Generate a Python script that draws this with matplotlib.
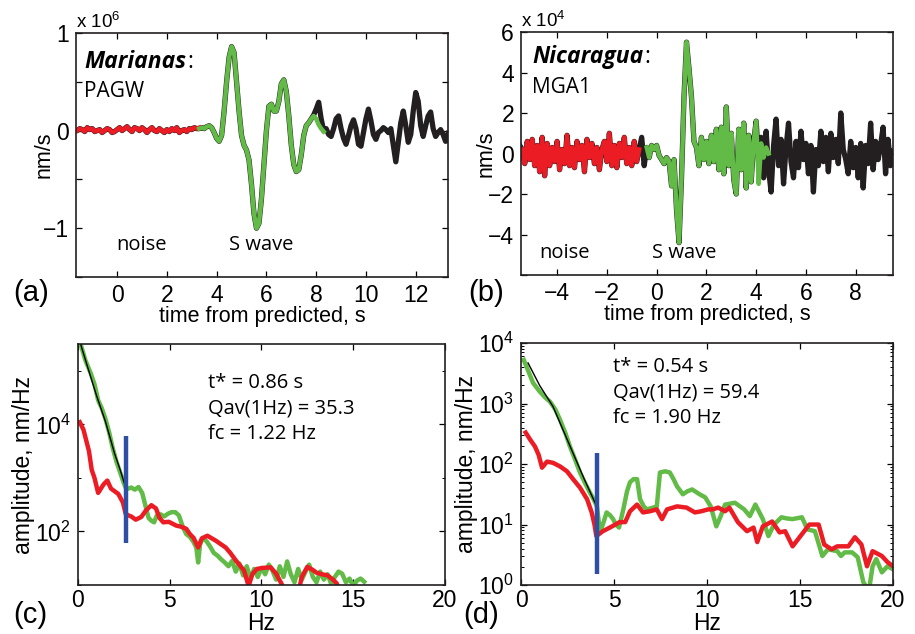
import numpy as np
import matplotlib
matplotlib.use("Agg")
import matplotlib.pyplot as plt
from matplotlib.ticker import NullFormatter, LogLocator

plt.rcParams['font.family'] = ['Liberation Sans', 'DejaVu Sans']
plt.rcParams['mathtext.fontset'] = 'custom'
plt.rcParams['mathtext.rm'] = 'Liberation Sans'
plt.rcParams['mathtext.it'] = 'Liberation Sans:italic'

DT = 0.1  # trace sampling, s

# ---- (a) Marianas, PAGW  (x 1e6 nm/s)
noise_a_t0 = -1.6
noise_a = [0.00, 0.02, 0.01, -0.01, 0.03, 0.01, 0.02, -0.01, 0.00, 0.01,
           -0.02, 0.00, 0.02, 0.01, -0.02, -0.01, 0.01, 0.03, 0.00, 0.02,
           0.04, 0.01, -0.01, 0.03, 0.02, 0.00, 0.03, 0.01, -0.02, 0.01,
           0.03, 0.00, -0.01, 0.02, 0.00, -0.02, 0.01, -0.01, 0.02, 0.00,
           0.03, -0.02, 0.00, 0.01, -0.01, 0.02, 0.01, 0.03, 0.02, 0.03]
swave_a_t0 = 3.3
swave_a = [0.02, 0.03, 0.02, 0.04, 0.05, 0.03, -0.02, -0.08, -0.11, -0.05,
           0.2, 0.5, 0.75, 0.86, 0.8, 0.5, 0.2, -0.05, -0.15, -0.2,
           -0.3, -0.55, -0.85, -1.0, -0.95, -0.7, -0.35, 0.0, 0.25, 0.27,
           0.2, 0.2, 0.3, 0.48, 0.52, 0.4, 0.15, -0.15, -0.35, -0.42,
           -0.4, -0.25, -0.05, 0.05, 0.08, 0.12, 0.15, 0.12, 0.06, 0.02, -0.01]
coda_a = [0.16, 0.22, 0.29, 0.12, 0.0, 0.02, -0.04, -0.06, 0.02, 0.12,
          0.15, 0.02, -0.08, -0.14, -0.05, 0.05, 0.11, 0.02, -0.14, -0.16,
          -0.02, 0.12, 0.22, 0.1, -0.04, -0.09, -0.02, 0.0, 0.03, 0.01,
          -0.02, 0.02, -0.15, -0.32, -0.12, 0.08, 0.2, 0.05, -0.12, -0.04,
          0.2, 0.39, 0.3, 0.05, -0.06, 0.05, 0.15, 0.19, 0.02, -0.06,
          -0.02, 0.01, -0.04, -0.11, -0.03]
trace_a_t0 = -1.7
trace_a = [0.0] + noise_a[:49] + swave_a[:46] + coda_a

# ---- (b) Nicaragua, MGA1  (x 1e4 nm/s)
noise_b_t0 = -5.4
noise_b = [0.2, -0.5, 0.6, -0.3, 0.7, -0.6, 0.4, -0.9, 0.8, -1.1,
           0.5, -0.6, 0.3, -0.4, 0.6, -0.8, 0.2, -0.5, 0.9, -0.6,
           0.3, -0.7, 0.6, -0.3, 0.4, -0.9, 0.7, -0.2, 0.5, -0.5,
           0.3, -0.8, 0.2, 0.6, -0.4, 1.0, -0.6, 0.4, -0.7, 0.5,
           -0.2, 0.8, -0.5, 0.3, -0.6, 0.6, -0.4, 0.2]
gap_b = [0.8, -0.6]
swave_b_t0 = -0.4
swave_b = [0.3, -0.2, 0.4, 0.2, 0.4, -0.1, -0.3, -0.5, -0.2, -0.4,
           -1.6, -0.3, -2.8, -4.4, -1.2, 2.8, 5.5, 4.2, 2.8, 0.6,
           0.3, -0.6, 0.8, -0.3, 0.6, -0.5, 0.9, -0.4, 1.2, -0.8,
           1.3, -1.0, 2.3, -0.6, 1.0, -1.3, -2.0, 1.2, -0.8, 1.5,
           -1.7, 0.9, -1.4, 0.6, 1.6, -1.5, 0.5, -0.2, 0.3, 0.0]
coda_b = [-0.5, 0.8, -1.2, 1.1, -0.8, -1.9, 0.4, 1.7, -0.6, 0.7,
          -1.5, 0.3, 1.5, -0.4, -1.2, 0.6, -0.7, 1.1, -0.3, 0.5,
          -1.0, 0.4, -1.9, 0.2, -0.6, 1.1, -0.4, 0.8, -0.9, 1.0,
          -0.2, 0.7, -0.5, 2.0, 0.2, -0.3, -1.0, 0.6, -0.7, 0.3,
          -1.2, 0.5, -1.7, 0.4, -0.5, 1.5, -0.8, 0.6, -0.3, 0.4,
          1.3, -1.0, 0.7, -0.6, 0.1]
trace_b_t0 = -5.5
trace_b = [0.4] + noise_b + gap_b + swave_b[:45] + coda_b

# ---- (c) spectra, Marianas (log10 amplitude, nm/Hz)
sig_c_f = [0.1, 0.4, 0.7, 0.9, 1.1, 1.3, 1.5, 1.7, 1.9, 2.1,
           2.3, 2.5, 2.6, 2.75, 2.9, 3.1, 3.3, 3.5, 3.7, 3.85,
           4.0, 4.15, 4.3, 4.5, 4.7, 4.9, 5.1, 5.3, 5.5, 5.7,
           5.9, 6.1, 6.3, 6.45, 6.55, 6.65, 6.8, 7.0, 7.2, 7.4,
           7.6, 7.8, 8.0, 8.2, 8.4, 8.6, 8.8, 9.0, 9.2, 9.4,
           9.6, 9.8, 10.0, 10.2, 10.4, 10.6, 10.8, 11.0, 11.2, 11.4,
           11.6, 11.8, 12.0, 12.2, 12.4, 12.6, 12.8, 13.0, 13.2, 13.4,
           13.6, 13.8, 14.0, 14.2, 14.4, 14.6, 14.8, 15.0, 15.2, 15.4, 15.6]
sig_c_log = [5.55, 5.2, 4.95, 4.75, 4.45, 4.3, 4.1, 3.85, 3.55, 3.3,
             3.1, 2.9, 2.82, 2.8, 2.82, 2.78, 2.83, 2.72, 2.45, 2.25,
             2.2, 2.17, 2.3, 2.32, 2.28, 2.33, 2.36, 2.36, 2.3, 2.1,
             1.95, 1.9, 1.8, 1.7, 1.42, 1.75, 1.88, 1.82, 1.72, 1.6,
             1.55, 1.48, 1.42, 1.35, 1.45, 1.25, 1.4, 1.18, 1.35, 1.12,
             1.3, 1.15, 1.32, 1.2, 1.38, 1.27, 1.1, 1.35, 1.15, 1.44,
             1.2, 1.05, 1.3, 1.1, 1.25, 1.38, 1.15, 1.05, 1.25, 1.1,
             1.2, 1.02, 1.15, 1.25, 1.21, 1.05, 1.12, 0.98, 1.08, 1.12, 1.06]
noi_c_f = [0.1, 0.3, 0.45, 0.6, 0.75, 0.9, 1.1, 1.25, 1.4, 1.6,
           1.8, 2.0, 2.2, 2.45, 2.6, 2.75, 2.9, 3.15, 3.45, 3.7,
           4.0, 4.25, 4.45, 4.65, 4.95, 5.35, 5.6, 5.9, 6.1, 6.3,
           6.55, 6.75, 7.05, 7.5, 8.05, 8.3, 8.6, 9.05, 9.3, 9.5,
           9.75, 10.1, 10.5, 10.8, 11.1, 11.3, 11.5, 11.8, 12.0, 12.2,
           12.5, 12.8, 13.0, 13.3, 13.6, 13.9, 14.1, 14.3]
noi_c_log = [4.04, 3.9, 3.7, 3.5, 3.15, 3.0, 2.72, 2.8, 2.88, 2.95,
             2.8, 2.75, 2.7, 2.54, 2.33, 2.3, 2.28, 2.22, 2.27, 2.39,
             2.49, 2.43, 2.25, 2.17, 2.18, 2.11, 2.09, 2.05, 1.95, 1.88,
             1.7, 1.87, 1.92, 1.83, 1.7, 1.6, 1.46, 1.27, 0.98, 1.2,
             1.3, 1.32, 1.33, 1.21, 1.02, 0.85, 0.8, 0.8, 0.85, 1.15,
             1.34, 1.28, 1.23, 1.2, 1.18, 1.1, 1.03, 0.85]
fit_c_f = [0.1, 0.5, 1.0, 1.5, 2.0, 2.3, 2.6]
fit_c_log = [5.55, 5.1, 4.55, 4.05, 3.45, 3.15, 2.82]
mark_c_f = 2.6
mark_c_log = (1.79, 3.78)

# ---- (d) spectra, Nicaragua
sig_d_f = [0.15, 0.65, 1.0, 1.3, 1.56, 1.85, 2.1, 2.4, 2.63, 2.9,
           3.17, 3.45, 3.7, 3.9, 4.08, 4.25, 4.45, 4.6, 4.8, 4.95,
           5.1, 5.27, 5.5, 5.7, 5.86, 6.05, 6.24, 6.4, 6.6, 6.77,
           7.1, 7.3, 7.47, 7.75, 8.0, 8.2, 8.39, 8.7, 8.95, 9.2,
           9.6, 9.9, 10.2, 10.5, 10.75, 10.97, 11.5, 12.0, 12.3, 12.6,
           13.0, 13.3, 13.6, 14.0, 14.3, 14.6, 15.1, 15.4, 15.8, 16.2,
           16.5, 17.0, 17.2, 17.4, 17.8, 18.1, 18.4, 18.7, 18.9, 19.1,
           19.4, 19.7, 20.0]
sig_d_log = [3.72, 3.34, 3.2, 3.1, 3.03, 2.9, 2.73, 2.5, 2.29, 2.08,
             1.86, 1.68, 1.53, 1.42, 1.3, 0.87, 1.05, 1.2, 1.15, 1.09,
             1.0, 0.95, 1.25, 1.55, 1.7, 1.75, 1.75, 1.42, 1.3, 1.25,
             1.28, 1.3, 1.86, 1.88, 1.86, 1.75, 1.63, 1.5, 1.55, 1.58,
             1.5, 1.45, 1.3, 0.97, 1.15, 1.33, 1.36, 1.25, 1.14, 1.33,
             1.09, 0.81, 1.0, 1.12, 1.1, 1.09, 1.12, 0.92, 0.89, 0.48,
             0.59, 0.56, 0.48, 0.54, 0.54, 0.46, 0.05, -0.1, 0.31, 0.43,
             0.21, 0.31, 0.26]
noi_d_f = [0.25, 0.5, 0.75, 0.95, 1.13, 1.4, 1.72, 2.1, 2.47, 2.8,
           3.17, 3.55, 3.8, 3.95, 4.05, 4.4, 4.9, 5.3, 5.6, 5.86,
           6.24, 6.56, 6.94, 7.3, 7.58, 7.85, 8.39, 8.9, 9.35, 9.7,
           10.05, 10.3, 10.6, 10.97, 11.2, 11.66, 12.15, 12.5, 12.7, 13.0,
           13.5, 13.9, 14.2, 14.6, 15.1, 15.5, 16.0, 16.3, 16.7, 17.0,
           17.6, 17.95, 18.3, 18.6, 18.9, 19.4, 19.7, 20.0]
noi_d_log = [2.52, 2.4, 2.29, 2.15, 1.94, 2.04, 2.02, 1.96, 1.88, 1.75,
             1.61, 1.42, 1.2, 1.0, 0.81, 0.89, 0.97, 1.04, 1.04, 1.22,
             1.33, 1.2, 1.22, 1.25, 1.09, 1.25, 1.3, 1.28, 1.2, 1.22,
             1.25, 1.25, 1.28, 1.22, 1.28, 1.04, 0.89, 0.95, 0.71, 0.97,
             1.05, 0.87, 0.89, 0.64, 0.84, 1.0, 1.0, 0.67, 0.59, 0.64,
             0.64, 0.79, 0.67, 0.31, 0.56, 0.48, 0.38, 0.31]
fit_d_f = [0.38, 1.0, 1.72, 2.63, 3.4, 4.1]
fit_d_log = [3.67, 3.3, 2.95, 2.3, 1.75, 1.28]
mark_d_f = 4.1
mark_d_log = (0.18, 2.19)

params_c = ["t* = 0.86 s", "Qav(1Hz) = 35.3", "fc = 1.22 Hz"]
params_d = ["t* = 0.54 s", "Qav(1Hz) = 59.4", "fc = 1.90 Hz"]

RED = '#ec1c24'
GREEN = '#62bb46'
BLACK = '#231f20'
BLUE = '#2e4fa3'
ANN = 'Open Sans'


def times(t0, vals):
    return t0 + DT * np.arange(len(vals))


def style(ax, xpad=5):
    ax.tick_params(direction='in', top=True, right=True, length=4, width=0.9,
                   labelsize=16.5, pad=5)
    ax.tick_params(axis='x', pad=xpad)
    ax.tick_params(which='minor', direction='in', top=True, right=True, length=2.5, width=0.7)
    for s in ax.spines.values():
        s.set_linewidth(1.2)
        s.set_color(BLACK)


def station(ax, x, y1, y2, event, code):
    t = ax.text(x, y1, event, transform=ax.transAxes, fontsize=16.5,
                fontweight='bold', style='italic', va='center', family=ANN)
    ax.annotate(':', xy=(1, 0.5), xycoords=t, xytext=(1, 0), textcoords='offset points',
                fontsize=16.5, va='center', family=ANN)
    ax.text(x, y2, code, transform=ax.transAxes, fontsize=15, va='center', family=ANN)


fig = plt.figure(figsize=(9.15, 6.34), dpi=100)
ax_a = fig.add_axes([0.0831, 0.5631, 0.4066, 0.3849])
ax_b = fig.add_axes([0.5694, 0.5662, 0.4066, 0.3833])
ax_c = fig.add_axes([0.0852, 0.0773, 0.4011, 0.3801])
ax_d = fig.add_axes([0.5694, 0.0772, 0.4066, 0.3818])

# (a)
ax_a.plot(times(trace_a_t0, trace_a), trace_a, color=BLACK, lw=3.8, solid_joinstyle='round')
ax_a.plot(times(noise_a_t0, noise_a), noise_a, color=RED, lw=3.2)
ax_a.plot(times(swave_a_t0, swave_a), swave_a, color=GREEN, lw=3.2)
ax_a.set_xlim(-1.65, 13.3)
ax_a.set_ylim(-1.5, 1)
ax_a.set_xticks(np.arange(0, 13, 2))
ax_a.set_yticks([-1.5, -1, -0.5, 0, 0.5, 1])
ax_a.set_yticklabels(['', '\u22121', '', '0', '', '1'])
ax_a.text(0.0, 1.005, r'x 10$^{6}$', transform=ax_a.transAxes, fontsize=13.5, va='bottom')
station(ax_a, 0.022, 0.881, 0.762, 'Marianas', 'PAGW')
ax_a.text(0.177, 0.131, 'noise', transform=ax_a.transAxes, fontsize=14.5, ha='center', va='center', family=ANN)
ax_a.text(0.497, 0.131, 'S wave', transform=ax_a.transAxes, fontsize=14.5, ha='center', va='center', family=ANN)
ax_a.set_xlabel('time from predicted, s', fontsize=15.5, labelpad=-1)
ax_a.set_ylabel('nm/s', fontsize=15.5, labelpad=-8)

# (b)
ax_b.plot(times(trace_b_t0, trace_b), trace_b, color=BLACK, lw=3.8, solid_joinstyle='round')
ax_b.plot(times(noise_b_t0, noise_b), noise_b, color=RED, lw=3.2)
ax_b.plot(times(swave_b_t0, swave_b), swave_b, color=GREEN, lw=3.2)
ax_b.set_xlim(-5.45, 9.5)
ax_b.set_ylim(-6, 6)
ax_b.set_xticks(np.arange(-4, 9, 2))
ax_b.set_yticks(np.arange(-6, 7, 2))
ax_b.set_yticklabels(['', '\u22124', '\u22122', '0', '2', '4', '6'])
ax_b.text(0.0, 1.005, r'x 10$^{4}$', transform=ax_b.transAxes, fontsize=13.5, va='bottom')
station(ax_b, 0.030, 0.897, 0.770, 'Nicaragua', 'MGA1')
ax_b.text(0.116, 0.0905, 'noise', transform=ax_b.transAxes, fontsize=14.5, ha='center', va='center', family=ANN)
ax_b.text(0.438, 0.0905, 'S wave', transform=ax_b.transAxes, fontsize=14.5, ha='center', va='center', family=ANN)
ax_b.set_xlabel('time from predicted, s', fontsize=15.5, labelpad=-1)
ax_b.set_ylabel('nm/s', fontsize=15.5, labelpad=-6)

# (c)
ax_c.plot(sig_c_f, 10 ** np.array(sig_c_log), color=GREEN, lw=3.2)
ax_c.plot(noi_c_f, 10 ** np.array(noi_c_log), color=RED, lw=3.2)
ax_c.plot(fit_c_f, 10 ** np.array(fit_c_log), color='black', lw=1.0)
ax_c.plot([mark_c_f, mark_c_f], 10 ** np.array(mark_c_log), color=BLUE, lw=3.2, solid_capstyle='butt')
ax_c.set_yscale('log')
ax_c.set_xlim(0, 20)
ax_c.set_ylim(10, 10 ** 5.5)
ax_c.set_xticks([0, 5, 10, 15, 20])
ax_c.set_yticks([1e2, 1e4])
ax_c.set_yticklabels([r'$\mathregular{10^{2}}$', r'$\mathregular{10^{4}}$'])
ax_c.yaxis.set_minor_formatter(NullFormatter())
ax_c.yaxis.set_minor_locator(LogLocator(base=10, subs=[]))
for i, s in enumerate(params_c):
    ax_c.text(0.354, [0.838, 0.734, 0.627][i], s, transform=ax_c.transAxes,
              fontsize=14.5, va='center', family=ANN)
ax_c.set_xlabel('Hz', fontsize=16.5, labelpad=0)
ax_c.set_ylabel('amplitude, nm/Hz', fontsize=16.5, labelpad=0)

# (d)
ax_d.plot(sig_d_f, 10 ** np.array(sig_d_log), color=GREEN, lw=3.2)
ax_d.plot(noi_d_f, 10 ** np.array(noi_d_log), color=RED, lw=3.2)
ax_d.plot(fit_d_f, 10 ** np.array(fit_d_log), color='black', lw=1.0)
ax_d.plot([mark_d_f, mark_d_f], 10 ** np.array(mark_d_log), color=BLUE, lw=3.2, solid_capstyle='butt')
ax_d.set_yscale('log')
ax_d.set_xlim(0, 20)
ax_d.set_ylim(1, 1e4)
ax_d.set_xticks([0, 5, 10, 15, 20])
ax_d.set_yticks([1, 10, 100, 1e3, 1e4])
ax_d.set_yticklabels([r'$\mathregular{10^{%d}}$' % k for k in range(5)])
ax_d.yaxis.set_minor_formatter(NullFormatter())
for i, s in enumerate(params_d):
    ax_d.text(0.247, [0.901, 0.794, 0.691][i], s, transform=ax_d.transAxes,
              fontsize=14.5, va='center', family=ANN)
ax_d.set_xlabel('Hz', fontsize=16.5, labelpad=0)
ax_d.set_ylabel('amplitude, nm/Hz', fontsize=16.5, labelpad=0)

style(ax_a)
style(ax_b)
style(ax_c, xpad=3)
style(ax_d, xpad=3)

for lab, x, y in [('(a)', 0.034, 0.538), ('(b)', 0.531, 0.538),
                  ('(c)', 0.033, 0.030), ('(d)', 0.526, 0.030)]:
    fig.text(x, y, lab, fontsize=21, ha='center', va='center')

fig.savefig('out.png', dpi=100)
